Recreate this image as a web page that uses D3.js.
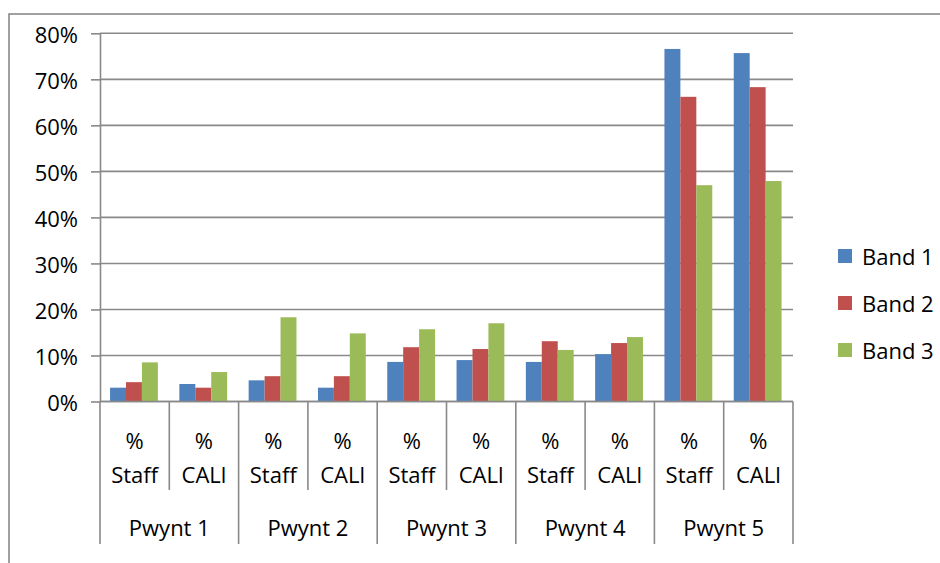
<!DOCTYPE html>
<html>
<head>
<meta charset="utf-8">
<script src="https://cdn.jsdelivr.net/npm/d3@7"></script>
<style>
  body { margin: 0; background: #fff; }
  svg { display: block; font-family: "Open Sans", "Noto Sans", sans-serif; }
</style>
</head>
<body>
<svg id="chart"></svg>
<script>
// data
const groups = ["Pwynt 1", "Pwynt 2", "Pwynt 3", "Pwynt 4", "Pwynt 5"];
const subs = ["% Staff", "% CALl"];
const series = ["Band 1", "Band 2", "Band 3"];
const colors = ["#4F81BD", "#C0504D", "#9BBB59"];
const yTicks = [0, 0.1, 0.2, 0.3, 0.4, 0.5, 0.6, 0.7, 0.8];

// one value per category (group x sub), in order
const band1 = [0.030, 0.038, 0.046, 0.030, 0.086, 0.090, 0.086, 0.103, 0.766, 0.757];
const band2 = [0.042, 0.030, 0.055, 0.055, 0.118, 0.114, 0.131, 0.127, 0.662, 0.683];
const band3 = [0.085, 0.064, 0.183, 0.148, 0.157, 0.170, 0.112, 0.140, 0.470, 0.479];
const values = [band1, band2, band3];

const width = 940;
const height = 563;
const plotLeft = 100, plotRight = 793, plotTop = 33.3, plotBottom = 401.5;
const grey = "#898989";

const cats = [];
groups.forEach((g) => subs.forEach((s) => cats.push({ group: g, sub: s })));

const svg = d3.select("#chart").attr("width", width).attr("height", height);

// outer chart border (runs off the right and bottom of the picture)
svg.append("rect")
  .attr("x", 9).attr("y", 14)
  .attr("width", 1000).attr("height", 600)
  .attr("fill", "none").attr("stroke", grey).attr("stroke-width", 1.6);

// scales
const x0 = d3.scaleBand().domain(d3.range(cats.length)).range([plotLeft, plotRight]);
const step = x0.bandwidth();
const x1 = d3.scaleBand().domain(d3.range(series.length))
  .range([step * 0.145, step * 0.835]);
const y = d3.scaleLinear().domain([0, 0.8]).range([plotBottom, plotTop]);

// gridlines
svg.append("g")
  .selectAll("line")
  .data(yTicks)
  .enter()
  .append("line")
  .attr("x1", plotLeft).attr("x2", plotRight)
  .attr("y1", (d) => y(d)).attr("y2", (d) => y(d))
  .attr("stroke", grey).attr("stroke-width", 1.6);

// bars
values.forEach((vals, si) => {
  svg.append("g")
    .attr("fill", colors[si])
    .selectAll("rect")
    .data(vals)
    .enter()
    .append("rect")
    .attr("x", (d, i) => x0(i) + x1(si))
    .attr("width", x1.bandwidth())
    .attr("y", (d) => y(d))
    .attr("height", (d) => plotBottom - y(d));
});

// y axis
const yAxis = d3.axisLeft(y)
  .tickValues(yTicks)
  .tickFormat(d3.format(".0%"))
  .tickSizeInner(9)
  .tickSizeOuter(0)
  .tickPadding(13);

const yg = svg.append("g")
  .attr("transform", `translate(${plotLeft},0)`)
  .call(yAxis);
yg.selectAll("path, line").attr("stroke", grey).attr("stroke-width", 1.6);
yg.selectAll("text")
  .attr("dy", "0.43em")
  .attr("fill", "#000")
  .style("font-size", "22px")
  .style("font-family", "Open Sans");

// x axis line and category dividers
svg.append("line")
  .attr("x1", plotLeft).attr("x2", plotRight)
  .attr("y1", plotBottom).attr("y2", plotBottom)
  .attr("stroke", grey).attr("stroke-width", 1.6);

svg.append("g")
  .selectAll("line")
  .data(d3.range(cats.length + 1))
  .enter()
  .append("line")
  .attr("x1", (i) => plotLeft + i * step).attr("x2", (i) => plotLeft + i * step)
  .attr("y1", plotBottom)
  .attr("y2", (i) => (i % subs.length === 0 ? 544 : 490))
  .attr("stroke", grey).attr("stroke-width", 1.6);

// sub labels, split on the space into two lines
const subLabels = svg.append("g")
  .selectAll("text")
  .data(cats)
  .enter()
  .append("text")
  .attr("text-anchor", "middle")
  .style("font-size", "22px");
subLabels.each(function (d, i) {
  const cx = x0(i) + step / 2;
  const parts = d.sub.split(" ");
  d3.select(this).selectAll("tspan")
    .data(parts)
    .enter()
    .append("tspan")
    .attr("x", cx)
    .attr("y", (p, j) => 449 + j * 33.5)
    .text((p) => p);
});

// group labels
svg.append("g")
  .selectAll("text")
  .data(groups)
  .enter()
  .append("text")
  .attr("text-anchor", "middle")
  .attr("x", (d, i) => plotLeft + (i + 0.5) * step * subs.length)
  .attr("y", 536)
  .style("font-size", "22px")
  .text((d) => d);

// legend
const legend = svg.append("g")
  .selectAll("g")
  .data(series)
  .enter()
  .append("g")
  .attr("transform", (d, i) => `translate(838, ${249 + i * 47})`);
legend.append("rect")
  .attr("width", 14).attr("height", 14)
  .attr("fill", (d, i) => colors[i]);
legend.append("text")
  .attr("x", 24).attr("y", 16)
  .style("font-size", "22px")
  .text((d) => d);
</script>
</body>
</html>
